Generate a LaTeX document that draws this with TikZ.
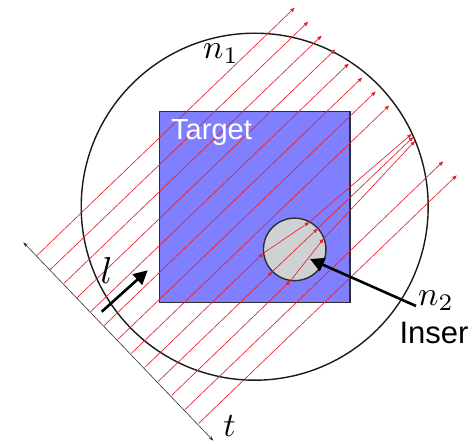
\documentclass[tikz,border=0pt]{standalone}
\usepackage{fontspec}
\setsansfont{Liberation Sans}
\usetikzlibrary{arrows.meta}
\definecolor{raycol}{RGB}{232,32,42}
\definecolor{tblue}{RGB}{128,128,255}
\definecolor{edgec}{RGB}{45,45,45}
\definecolor{insfill}{RGB}{208,209,211}
\begin{document}
\begin{tikzpicture}[x=1pt,y=-1pt,
  ray/.style={draw=raycol, line width=0.65pt, -{Triangle[length=4.5pt,width=3.6pt,fill=raycol]}},
  bigarrow/.style={draw=black, line width=2.6pt, -{Triangle[length=14pt,width=14pt]}},
  axisline/.style={draw=black!80, line width=0.6pt, {Stealth[length=5pt,width=3.5pt]}-{Stealth[length=5pt,width=3.5pt]}},
  mathlabel/.style={inner sep=0pt, scale=3.4},
  sanslabel/.style={inner sep=0pt, font=\sffamily\fontsize{29}{34}\selectfont}]
\useasboundingbox (0,0) rectangle (472,444);
% outer medium
\node[circle, draw=black!90, line width=1.4pt, minimum size=347pt, inner sep=0pt] (outer) at (254.7,206.7) {};
% target square
\node[rectangle, fill=tblue, draw=edgec, line width=1.4pt, minimum width=190.7pt, minimum height=190.6pt, inner sep=0pt] (target) at (254.65,207) {};
% insert
\node[circle, fill=insfill, draw=edgec, line width=1.4pt, minimum size=62.5pt, inner sep=0pt] (insert) at (294.7,249.4) {};
% t axis
\coordinate (A) at (23.3,242.3);
\coordinate (B) at (213.3,440.7);
\draw[axisline] (A) -- (B);
% straight rays
\foreach \k in {1,2,3,4,5,6,7,8,12,13} {
  \coordinate (S\k) at ({36.7+13.5*(\k-1)},{255.7+13.97*(\k-1)});
  \coordinate (E\k) at ({294.7+13.5*(\k-1)},{7.7+13.97*(\k-1)});
  \draw[ray] (S\k) -- (E\k);
}
% refracted rays
\coordinate (S9) at (144.7,367.5);  \coordinate (I9) at (263,253.4);
\coordinate (O9) at (309.3,222.1);  \coordinate (F9) at (411.7,134);
\coordinate (S10) at (158.2,381.4); \coordinate (I10) at (272.3,271.7);
\coordinate (O10) at (317.6,228.6); \coordinate (F10) at (413.3,137);
\coordinate (S11) at (171.7,395.4); \coordinate (I11) at (290.3,281);
\coordinate (O11) at (323.7,238.6); \coordinate (F11) at (415,141);
\foreach \k in {9,10,11} {
  \draw[ray] (S\k) -- (I\k);
  \draw[ray] (I\k) -- (O\k);
  \draw[ray] (O\k) -- (F\k);
}
% labels
\node[sanslabel, text=white, anchor=base west] (tlabel) at (171,139.3) {Target};
\node[inner sep=0pt, font=\sffamily\fontsize{31}{36}\selectfont, anchor=base west] (inslabel) at (399.4,343.3) {Inser};
\node[mathlabel] (n1) at (221,53.5) {$n_1$};
\node[mathlabel] (n2) at (436,300.5) {$n_2$};
\node[inner sep=0pt, scale=3.75] (llabel) at (106.7,270) {$l$};
\node[mathlabel] (tl) at (229.5,426.5) {$t$};
% thick arrows
\coordinate (lA) at (101.7,311.7);
\coordinate (lB) at (147.7,270.3);
\draw[bigarrow] (lA) -- (lB);
\coordinate (pA) at (416,306);
\coordinate (pB) at (310,259);
\draw[bigarrow] (pA) -- (pB);
\end{tikzpicture}
\end{document}
